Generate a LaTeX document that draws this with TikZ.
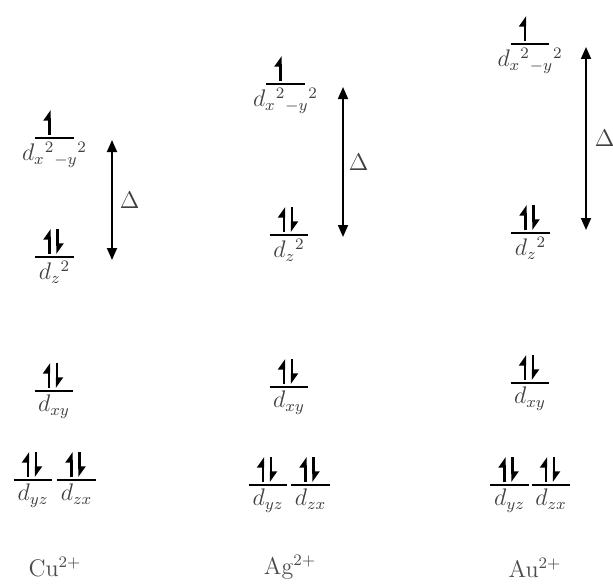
\documentclass[tikz,border=0pt]{standalone}
\usepackage{tikz}
\usetikzlibrary{arrows.meta, positioning}
\tikzset{
  level/.style = {
    minimum width=19pt, minimum height=0pt, inner sep=0pt,
    append after command={(\tikzlastnode.west) edge[line width=1pt] (\tikzlastnode.east)}
  },
  orb/.style = {text=black!75, inner sep=1.5pt, font=\large},
  spinup/.style = {-{Triangle[harpoon, length=4.5pt, width=6pt]}, line width=1.2pt},
  spindown/.style = {spinup},
  gap/.style = {{Triangle[length=6pt, width=5pt]}-{Triangle[length=6pt, width=5pt]}, line width=0.9pt},
  ion/.style = {text=black!70, font=\large}
}
\begin{document}
\begin{tikzpicture}[x=0.5pt, y=-0.5pt]
  \clip (0,0) rectangle (613,583);
  % Cu2+
  \node[level, label={[orb]below:$d_{x}{}^{2}{}_{-y}{}^{2}$}] (cu-x2) at (54.5,138) {};
  \node[level, label={[orb]below:$d_{z}{}^{2}$}]              (cu-z2) at (54.5,257) {};
  \node[level, label={[orb]below:$d_{xy}$}]                   (cu-xy) at (54,391) {};
  \node[level, label={[orb]below:$d_{yz}$}]                   (cu-yz) at (33,480) {};
  \node[level, label={[orb]below:$d_{zx}$}]                   (cu-zx) at (76.5,480) {};
  \node[ion] (cu) at (55,567) {Cu$^{2+}$};
  % Ag2+
  \node[level, label={[orb]below:$d_{x}{}^{2}{}_{-y}{}^{2}$}] (ag-x2) at (285.5,84) {};
  \node[level, label={[orb]below:$d_{z}{}^{2}$}]              (ag-z2) at (289,235) {};
  \node[level, label={[orb]below:$d_{xy}$}]                   (ag-xy) at (289,387) {};
  \node[level, label={[orb]below:$d_{yz}$}]                   (ag-yz) at (268,485) {};
  \node[level, label={[orb]below:$d_{zx}$}]                   (ag-zx) at (310.5,485) {};
  \node[ion] (ag) at (290,567) {Ag$^{2+}$};
  % Au2+
  \node[level, label={[orb]below:$d_{x}{}^{2}{}_{-y}{}^{2}$}] (au-x2) at (530,44) {};
  \node[level, label={[orb]below:$d_{z}{}^{2}$}]              (au-z2) at (530.5,233) {};
  \node[level, label={[orb]below:$d_{xy}$}]                   (au-xy) at (530,383) {};
  \node[level, label={[orb]below:$d_{yz}$}]                   (au-yz) at (509.5,485) {};
  \node[level, label={[orb]below:$d_{zx}$}]                   (au-zx) at (551,485) {};
  \node[ion] (au) at (535,568) {Au$^{2+}$};
  % electrons
  \foreach \n in {cu-x2, ag-x2, au-x2}
    \draw[spinup] ([xshift=-2.5pt, yshift=1.5pt]\n.center) -- ++(0,12.5pt);
  \foreach \n in {cu-z2, cu-xy, cu-yz, cu-zx, ag-z2, ag-xy, ag-yz, ag-zx, au-z2, au-xy, au-yz, au-zx} {
    \draw[spinup]   ([xshift=-2.5pt, yshift=1.5pt]\n.center) -- ++(0,12.5pt);
    \draw[spindown] ([xshift=1.5pt, yshift=14pt]\n.center) -- ++(0,-12.5pt);
  }
  % splitting
  \coordinate (cu-top) at (112,140);
  \coordinate (cu-bot) at (112,260);
  \coordinate (ag-top) at (343,87);
  \coordinate (ag-bot) at (343,237);
  \coordinate (au-top) at (586,47);
  \coordinate (au-bot) at (586,230);
  \draw[gap] (cu-top) -- node[right=2pt, orb] (cu-d) {$\Delta$} (cu-bot);
  \draw[gap] (ag-top) -- node[right=1pt, orb] (ag-d) {$\Delta$} (ag-bot);
  \draw[gap] (au-top) -- node[right=2.5pt, orb] (au-d) {$\Delta$} (au-bot);
\end{tikzpicture}
\end{document}
